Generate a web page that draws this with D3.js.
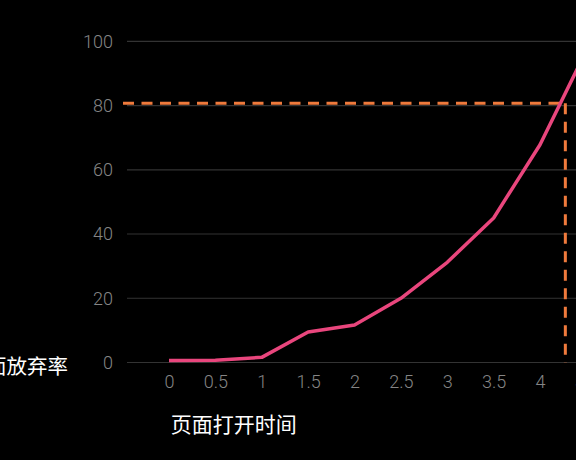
<!DOCTYPE html>
<html>
<head>
<meta charset="utf-8">
<style>
  html, body { margin: 0; padding: 0; background: #000; }
  svg { display: block; }
</style>
</head>
<body>
<svg width="576" height="460"></svg>
<script src="https://d3js.org/d3.v7.min.js"></script>
<script>
  // 页面打开时间 (秒) / 页面放弃率 (%)
  var times = [0, 0.5, 1, 1.5, 2, 2.5, 3, 3.5, 4, 5];
  var abandonRate = [0.6, 0.7, 1.6, 9.5, 11.7, 20, 31.2, 45, 67.8, 92.5];
  var yTicks = [0, 20, 40, 60, 80, 100];
  var xTickLabels = ["0", "0.5", "1", "1.5", "2", "2.5", "3", "3.5", "4", "5"];
  // 80% 放弃率对应的标记点
  var markTime = [4.65];
  var markRate = [80.7];

  var data = times.map(function(t, i) { return {t: t, v: abandonRate[i]}; });

  var svg = d3.select("svg");

  // x 轴不是等距的，4 到 5 被压缩了
  var x = d3.scaleLinear()
    .domain([0, 4, 5])
    .range([169, 540, 579]);

  var y = d3.scaleLinear()
    .domain([0, 100])
    .range([362.5, 41.3]);

  // 网格线
  svg.append("g")
    .selectAll("line")
    .data(yTicks)
    .join("line")
    .attr("x1", 127)
    .attr("x2", 576)
    .attr("y1", function(d) { return y(d); })
    .attr("y2", function(d) { return y(d); })
    .attr("stroke", "#333")
    .attr("stroke-width", 1.2);

  // y 轴刻度
  var yAxis = d3.axisLeft(y).tickValues(yTicks).tickSize(0).tickPadding(0);
  var gy = svg.append("g")
    .attr("transform", "translate(113,0)")
    .call(yAxis);
  gy.select(".domain").remove();
  gy.selectAll("text")
    .attr("fill", "#858585")
    .style("font-family", "Roboto, 'Noto Sans', sans-serif")
    .style("font-weight", "300")
    .style("font-size", "18px");

  // x 轴刻度
  var xAxis = d3.axisBottom(x)
    .tickValues(times)
    .tickFormat(function(d, i) { return xTickLabels[i]; })
    .tickSize(0)
    .tickPadding(0);
  var gx = svg.append("g")
    .attr("transform", "translate(0,375)")
    .call(xAxis);
  gx.select(".domain").remove();
  gx.selectAll("text")
    .attr("fill", "#858585")
    .style("font-family", "Roboto, 'Noto Sans', sans-serif")
    .style("font-weight", "300")
    .style("font-size", "18px");

  // 折线
  var line = d3.line()
    .x(function(d) { return x(d.t); })
    .y(function(d) { return y(d.v); });

  // 虚线标记
  svg.append("line")
    .attr("x1", 123)
    .attr("x2", x(markTime[0]))
    .attr("y1", y(markRate[0]))
    .attr("y2", y(markRate[0]))
    .attr("stroke", "#ef7a3c")
    .attr("stroke-width", 3)
    .attr("stroke-dasharray", "11,7.5");

  svg.append("line")
    .attr("x1", x(markTime[0]))
    .attr("x2", x(markTime[0]))
    .attr("y1", y(markRate[0]))
    .attr("y2", y(0))
    .attr("stroke", "#ef7a3c")
    .attr("stroke-width", 3)
    .attr("stroke-dasharray", "11,7.5");

  svg.append("path")
    .datum(data)
    .attr("fill", "none")
    .attr("stroke", "#e9467d")
    .attr("stroke-width", 3.5)
    .attr("stroke-linejoin", "round")
    .attr("d", line);

  // 轴标题
  svg.append("text")
    .attr("x", 68)
    .attr("y", 365)
    .attr("text-anchor", "end")
    .attr("dominant-baseline", "central")
    .attr("fill", "#fff")
    .style("font-family", "'Noto Sans CJK SC', sans-serif")
    .style("font-size", "20.5px")
    .text("页面放弃率");

  svg.append("text")
    .attr("x", 233.7)
    .attr("y", 422.5)
    .attr("text-anchor", "middle")
    .attr("dominant-baseline", "central")
    .attr("fill", "#fff")
    .style("font-family", "'Noto Sans CJK SC', sans-serif")
    .style("font-size", "21px")
    .text("页面打开时间");
</script>
</body>
</html>
